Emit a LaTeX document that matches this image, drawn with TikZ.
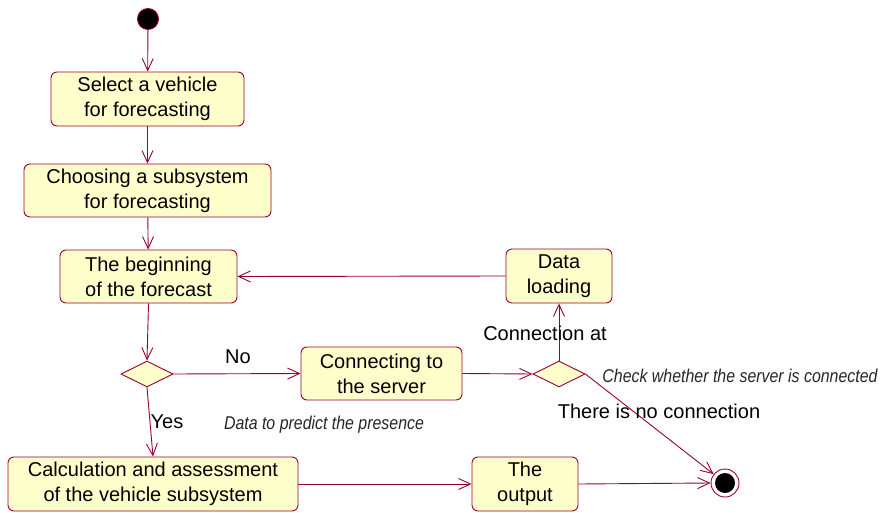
\documentclass[tikz,border=0pt]{standalone}
\usepackage{fontspec}
\setmainfont{Liberation Sans}
\newfontfamily\notefont[FakeStretch=0.86]{Liberation Sans}
\usetikzlibrary{arrows.meta,shapes.geometric}
\definecolor{umlline}{RGB}{153,0,51}
\definecolor{umlfill}{RGB}{255,255,204}
\tikzset{
  act/.style={draw=umlline, fill=umlfill, rounded corners=6pt, line width=0.9pt,
    align=center, inner sep=0pt, font=\fontsize{20}{25}\selectfont},
  choice/.style={draw=umlline, fill=umlfill, shape=diamond, line width=0.9pt,
    inner sep=0pt, minimum width=52pt, minimum height=26pt},
  flow/.style={draw=umlline, line width=0.9pt, -{Straight Barb[length=12pt,width=11pt]}},
  guard/.style={font=\fontsize{20}{24}\selectfont, inner sep=0pt},
  note/.style={font=\notefont\itshape\fontsize{18.5}{22}\selectfont, inner sep=0pt, text=black!85},
}
\begin{document}
\begin{tikzpicture}[x=1pt,y=-1pt]
\useasboundingbox (0,0) rectangle (882,513);

% initial and final states
\node[circle, draw=umlline, fill=black, line width=0.9pt, minimum size=21pt, inner sep=0pt] (start) at (148,19) {};
\node[circle, draw=umlline, fill=white, line width=0.9pt, minimum size=28pt, inner sep=0pt] (end) at (725,483) {};
\node[circle, fill=black, minimum size=20pt, inner sep=0pt] (endcore) at (725,483) {};

% activities
\node[act, minimum width=193pt, minimum height=54pt] (select) at (147.5,99) {Select a vehicle\\for forecasting};
\node[act, minimum width=247pt, minimum height=53pt] (choose) at (147.5,190.5) {Choosing a subsystem\\for forecasting};
\node[act, minimum width=177pt, minimum height=53pt] (begin) at (148.5,276.5) {The beginning\\of the forecast};
\node[act, minimum width=106pt, minimum height=54pt] (load) at (559,276) {Data\\loading};
\node[act, minimum width=161pt, minimum height=53pt] (connect) at (381.5,373.5) {Connecting to\\the server};
\node[act, minimum width=290pt, minimum height=54pt] (calc) at (153,484) {Calculation and assessment\\of the vehicle subsystem};
\node[act, minimum width=106pt, minimum height=54pt] (output) at (525,484) {The\\output};

% decisions
\node[choice] (d1) at (147,374) {};
\node[choice] (d2) at (559,374) {};

% transitions
\draw[flow] (start) -- (select);
\draw[flow] (select) -- (choose);
\draw[flow] (choose) -- (begin);
\draw[flow] (load.west) -- (begin.east);
\draw[flow] (begin.south) -- (d1.north);
\draw[flow] (d1.south) -- (calc.north);
\draw[flow] (d1.east) -- (connect.west);
\draw[flow] (connect.east) -- (d2.west);
\draw[flow] (d2.north) -- (load.south);
\draw[flow] (d2.east) -- (end);
\draw[flow] (calc.east) -- (output.west);
\draw[flow] (output.east) -- (end.west);

% guards and notes
\node[guard] (no) at (238,357) {No};
\node[guard] (yes) at (167,422) {Yes};
\node[guard] (conat) at (545,333) {Connection at};
\node[guard] (noconn) at (659,411) {There is no connection};
\node[note] (check) at (740,376) {Check whether the server is connected};
\node[note] (presence) at (324,425) {Data to predict the presence};
\end{tikzpicture}
\end{document}
